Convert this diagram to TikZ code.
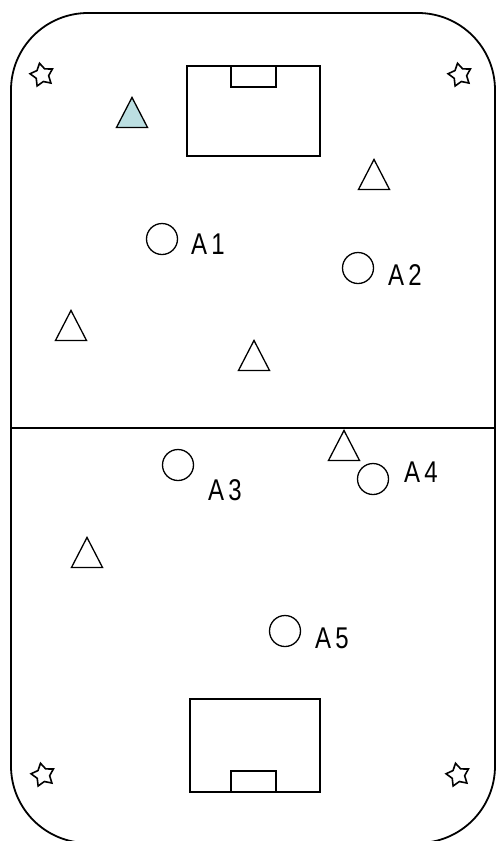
\documentclass[tikz,border=0pt]{standalone}
\usepackage{fontspec}
\setmainfont{Liberation Sans}
\usetikzlibrary{shapes.geometric}
\definecolor{coneblue}{HTML}{BCDFE2}
\newcommand{\tagtext}[1]{\scalebox{0.8}[1]{#1}}

\begin{document}
\begin{tikzpicture}[x=1pt,y=-1pt,
  player/.style={circle, draw, line width=1.3pt, minimum size=31pt, inner sep=0pt},
  cone/.style={isosceles triangle, shape border rotate=90, isosceles triangle stretches, draw, line width=1.3pt, minimum width=31pt, minimum height=30pt, inner sep=0pt},
  flag/.style={star, star points=5, star point ratio=1.8, draw, line width=1.6pt, minimum size=24pt, inner sep=0pt, rotate=12},
  tag/.style={font=\fontsize{30}{30}\selectfont\addfontfeature{LetterSpace=18}, inner sep=0pt},
  goal/.style={draw, line width=2pt}]
\useasboundingbox (0,0) rectangle (496,841);
\clip (0,0) rectangle (496,841);
% pitch
\draw[line width=1.8pt, rounded corners=77pt] (11,13) rectangle (495,843);
\draw[line width=2pt] (11,428) -- (495,428);
% goals
\draw[goal] (187,66) rectangle (320,156);
\draw[goal] (231,66) rectangle (276,87);
\draw[goal] (190,699) rectangle (320,792);
\draw[goal] (231,771) rectangle (276,792);
% corner flags
\node[flag] (f1) at (42,75) {};
\node[flag] (f2) at (460,75) {};
\node[flag] (f3) at (43,775) {};
\node[flag] (f4) at (458,775) {};
% cones
\node[cone, fill=coneblue] (c1) at (132,118) {};
\node[cone] (c2) at (374,180) {};
\node[cone] (c3) at (71,331) {};
\node[cone] (c4) at (254,361) {};
\node[cone] (c5) at (344,451) {};
\node[cone] (c6) at (87,558) {};
% players
\node[player] (p1) at (162,239) {};
\node[player] (p2) at (358,268) {};
\node[player] (p3) at (178,465) {};
\node[player] (p4) at (373,479) {};
\node[player] (p5) at (285,631) {};
\node[tag] (t1) at (208,244) {\tagtext{A1}};
\node[tag] (t2) at (405,275) {\tagtext{A2}};
\node[tag] (t3) at (225,490) {\tagtext{A3}};
\node[tag] (t4) at (421,472) {\tagtext{A4}};
\node[tag] (t5) at (332,638) {\tagtext{A5}};
\end{tikzpicture}
\end{document}
